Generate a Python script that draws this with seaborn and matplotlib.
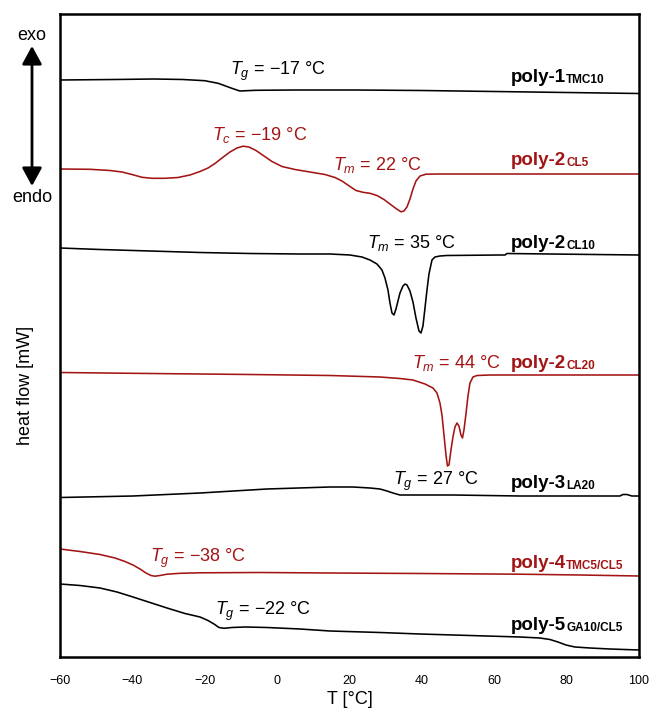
import pandas as pd
import numpy as np
import matplotlib
matplotlib.use("Agg")
import matplotlib.pyplot as plt
import seaborn as sns

# -----------------------------
# Data (T in °C, heat flow in stacked a.u.)
# -----------------------------
samples = ["poly-1", "poly-2 CL5", "poly-2 CL10", "poly-2 CL20", "poly-3", "poly-4", "poly-5"]

t_p1 = [-60, -45, -34, -26, -20, -16.3, -14.4, -12.5, -10.3, -6, 5, 21.5, 40, 60, 80, 100]
h_p1 = [577, 577.5, 578, 577.5, 576.3, 573.7, 571.2, 568.7, 566, 566.7, 567, 567, 566.5, 565.5, 564.5, 563.5]

t_cl5 = [-60, -51.71, -46.18, -42.87, -40.11, -37.34, -34.58, -30.99, -27.39, -24.08, -21.32,
         -19.10, -17.17, -15.24, -13.03, -11.09, -9.43, -7.78, -5.84, -3.63, -1.42, 1.34,
         4.93, 9.08, 13.22, 15.99, 17.92, 20.13, 21.79, 23.72, 25.66, 27.59, 29.53, 31.18,
         32.84, 34.22, 35.05, 35.88, 36.71, 37.54, 38.37, 39.48, 41.13, 45.00, 100]
h_cl5 = [488, 487.7, 486.5, 485, 482.5, 479.7, 478.7, 478.7, 479.5, 482, 485.5,
         489, 493.5, 499, 505, 509, 510.8, 510, 506.5, 501, 495.5, 490.5,
         487.5, 485, 482.5, 479.5, 476, 470.5, 466.5, 464.7, 463.7, 461.5, 457.5, 453,
         448.5, 445.2, 446, 450, 458, 468, 476, 481, 482.8, 483, 483]

t_cl10 = [-60, -48.95, -35.13, -21.32, -7.50, 6.32, 14.61, 20.13, 23.45, 25.66, 27.59, 28.97,
          29.80, 30.63, 31.18, 31.74, 32.29, 32.84, 33.95, 34.78, 35.33, 35.88, 36.71, 37.54,
          38.37, 39.20, 39.75, 40.30, 40.86, 41.41, 41.96, 42.79, 43.62, 45.00, 46.93, 61.58,
          62.96, 63.51, 75.39, 100]
h_cl10 = [409, 407.5, 406, 404.5, 403.5, 403, 403, 402, 400, 397, 393, 387,
          379, 367, 354, 344, 342, 348, 364, 371, 373, 372, 366, 355,
          339, 326, 324, 331, 349, 367, 383, 397, 400, 401, 401.5, 402,
          402, 403.5, 403, 402]

t_cl20 = [-60, -35.13, -7.50, 14.61, 28.42, 33.95, 37.54, 40.86, 43.07, 44.17, 45.00, 45.55,
          46.11, 46.66, 47.07, 47.49, 48.04, 48.59, 49.14, 49.70, 50.25, 50.80, 51.22, 51.63,
          52.18, 52.74, 53.29, 54.12, 55.22, 58.82, 100]
h_cl20 = [284.5, 283.5, 282.5, 281.5, 280, 278.5, 277, 273, 269, 264, 254, 242,
          222, 202, 191, 192, 207, 220, 230, 234, 231, 222, 219, 227,
          243, 261, 274, 280, 281.5, 282, 282]

t_p3 = [-60, -39.83, -21.32, -2.80, 14.61, 20.96, 25.66, 28.42, 30.36, 32.01, 33.95, 48.59,
        67.10, 94.73, 95.56, 96.66, 98.04, 100]
h_p3 = [159.5, 161, 164, 168, 170, 170, 169, 168, 166, 164, 162, 162,
        161, 161, 162.5, 162.5, 161, 161]

t_p4 = [-60, -54.47, -48.95, -44.80, -42.04, -39.83, -37.89, -36.24, -34.86, -33.75, -32.37,
        -30.43, -26.84, -21.32, -4.74, 14.61, 39.48, 67.10, 83.68, 100]
h_p4 = [108, 105.5, 102.5, 99, 95.5, 92, 88, 84, 81.5, 80.8, 81.5,
        82.8, 83.7, 84.2, 84.5, 84, 83.5, 82.8, 82, 81]

t_p5 = [-60, -54.47, -48.95, -44.25, -39.83, -35.13, -30.43, -25.46, -21.32, -19.10, -17.45,
        -16.07, -14.68, -12.47, -8.88, -2.80, 6.32, 14.61, 28.42, 39.48, 53.29, 67.10, 72.63,
        75.39, 77.60, 79.81, 82.30, 86.45, 91.97, 100]
h_p5 = [73, 71.5, 69, 65, 60, 54.5, 49, 43.5, 40, 36.5, 33,
        29.5, 28.7, 29.5, 30, 29.5, 28, 26, 24.5, 23, 21.5, 20, 19,
        17.5, 15, 12, 10, 9, 8, 7]

label_main = ["poly-1", "poly-2", "poly-2", "poly-2", "poly-3", "poly-4", "poly-5"]
label_sub = ["TMC10", "CL5", "CL10", "CL20", "LA20", "TMC5/CL5", "GA10/CL5"]
label_h = [575, 492, 408.7, 288.7, 168.7, 88.7, 27]

# transition annotations
trans_text = ["$T_g$ = −17 °C", "$T_c$ = −19 °C", "$T_m$ = 22 °C", "$T_m$ = 35 °C",
              "$T_m$ = 44 °C", "$T_g$ = 27 °C", "$T_g$ = −38 °C", "$T_g$ = −22 °C"]
trans_t = [-13.0, -18.1, 15.5, 24.8, 37.2, 32.1, -35.1, -17.2]
trans_h = [582, 517, 487, 408.7, 288.7, 172, 94.7, 42]
trans_red = [False, True, True, False, True, False, True, False]

black = "#000000"
red = "#a31515"
colors = [black, red, black, red, black, red, black]

# -----------------------------
# Build long dataframe
# -----------------------------
series_t = [t_p1, t_cl5, t_cl10, t_cl20, t_p3, t_p4, t_p5]
series_h = [h_p1, h_cl5, h_cl10, h_cl20, h_p3, h_p4, h_p5]
frames = []
for name, tt, hh in zip(samples, series_t, series_h):
    frames.append(pd.DataFrame({"T": tt, "heat": hh, "sample": name}))
df = pd.concat(frames, ignore_index=True)

# -----------------------------
# Style
# -----------------------------
sns.set_theme(style="white")
plt.rcParams["font.family"] = ["Liberation Sans", "DejaVu Sans"]
plt.rcParams["mathtext.fontset"] = "custom"
plt.rcParams["mathtext.rm"] = "Liberation Sans"
plt.rcParams["mathtext.it"] = "Liberation Sans:italic"
plt.rcParams["mathtext.bf"] = "Liberation Sans:bold"
plt.rcParams["text.color"] = black
plt.rcParams["axes.labelcolor"] = black

fig = plt.figure(figsize=(6.49, 7.12), dpi=100)
ax = fig.add_axes([60 / 649, 55 / 712, 579 / 649, 643 / 712])

sns.lineplot(data=df, x="T", y="heat", hue="sample", palette=dict(zip(samples, colors)),
             estimator=None, sort=False, legend=False, linewidth=1.15, ax=ax)
for line in ax.lines:
    line.set_solid_joinstyle("round")

ax.set_xlim(-60, 100)
ax.set_ylim(0, 643)
ax.set_xticks(np.arange(-60, 101, 20))
ax.set_yticks([])
ax.tick_params(axis="x", direction="out", length=7, width=1.6, pad=6, labelsize=9,
               colors=black)
for side in ["left", "right", "top", "bottom"]:
    ax.spines[side].set_linewidth(1.8)
    ax.spines[side].set_color(black)

ax.set_xlabel("T [°C]", fontsize=13, labelpad=3)
ax.set_ylabel("heat flow [mW]", fontsize=13)
ax.yaxis.set_label_coords(-0.045, 0.423)

# sample labels with subscript
for main, sub, hh, c in zip(label_main, label_sub, label_h, colors):
    t = ax.text(64.5, hh, main, fontsize=13.5, fontweight="bold", color=c, va="baseline")
    ax.annotate(sub, xy=(1, 0), xycoords=t, xytext=(0.3, 0), textcoords="offset points",
                fontsize=8.5, fontweight="bold", color=c, va="bottom", ha="left")

# transition temperatures
for txt, tt, hh, is_red in zip(trans_text, trans_t, trans_h, trans_red):
    ax.text(tt, hh, txt, fontsize=13, color=red if is_red else black, va="baseline", ha="left")

# exo / endo arrow
ax.annotate("", xy=(32, 712 - 46), xytext=(32, 712 - 186), xycoords="figure pixels",
            textcoords="figure pixels",
            arrowprops=dict(arrowstyle="<|-|>,head_length=1.1,head_width=0.6", lw=2,
                            color=black, shrinkA=0, shrinkB=0, mutation_scale=10))
fig.text(32 / 649, 1 - 35 / 712, "exo", fontsize=13, ha="center", va="center")
fig.text(32 / 649, 1 - 198 / 712, "endo", fontsize=13, ha="center", va="center")

fig.savefig("out.png", dpi=100)
